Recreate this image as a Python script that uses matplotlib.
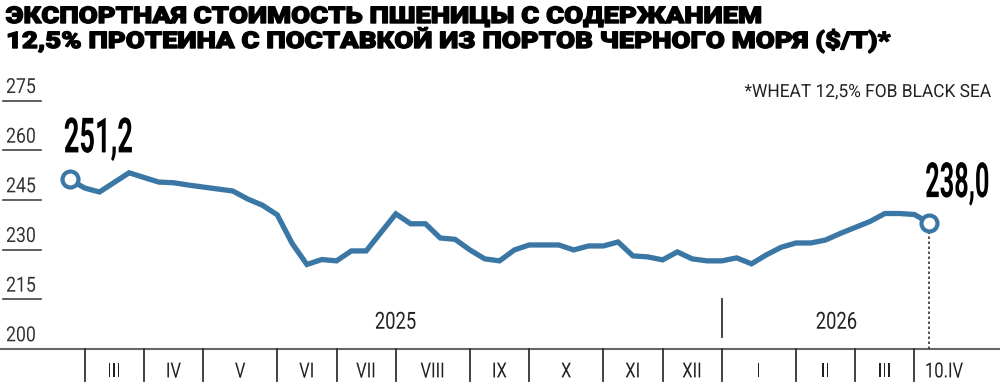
import matplotlib
matplotlib.use("Agg")
import matplotlib.pyplot as plt
from matplotlib.patheffects import AbstractPathEffect
from matplotlib.transforms import Affine2D
import pandas as pd

# weekly price, $/t (Fridays 28.II.2025 - 10.IV.2026)
dates = pd.date_range("2025-02-28", "2026-04-10", freq="7D")
prices = [251.2, 248.6, 247.4, 250.3, 253.2, 251.8, 250.4, 250.2, 249.5, 248.9,
          248.3, 247.7, 245.3, 243.4, 240.5, 231.9, 225.5, 227.0, 226.6, 229.6,
          229.6, 235.2, 240.8, 237.8, 237.8, 233.5, 233.1, 229.9, 227.2, 226.6,
          229.9, 231.4, 231.4, 231.4, 229.9, 231.1, 231.1, 232.3, 228.1, 227.8,
          226.9, 229.3, 227.2, 226.6, 226.6, 227.5, 225.7, 228.4, 230.7, 232.0,
          232.0, 232.9, 234.9, 236.7, 238.5, 240.9, 240.9, 240.6, 238.0]
yticks = [200, 215, 230, 245, 260, 275]
roman = ["I", "II", "III", "IV", "V", "VI", "VII", "VIII", "IX", "X", "XI", "XII"]

title1 = "ЭКСПОРТНАЯ СТОИМОСТЬ ПШЕНИЦЫ С СОДЕРЖАНИЕМ"
title2 = "12,5% ПРОТЕИНА С ПОСТАВКОЙ ИЗ ПОРТОВ ЧЕРНОГО МОРЯ ($/Т)*"
note = "*WHEAT 12,5% FOB BLACK SEA"

plt.rcParams["font.family"] = ["Roboto", "DejaVu Sans"]

BLUE = "#3a77a5"
INK = "#222222"


class Condense(AbstractPathEffect):
    # squeeze/stretch glyphs horizontally, optional outline to fake a heavier weight
    def __init__(self, sx, align="left", stroke=0):
        super().__init__()
        self.sx = sx
        self.k = {"left": 0.0, "center": 0.5, "right": 1.0}[align]
        self.stroke = stroke

    def draw_path(self, renderer, gc, tpath, affine, rgbFace=None):
        w = tpath.vertices[:, 0].max() if len(tpath.vertices) else 0
        t = Affine2D().scale(self.sx, 1).translate(self.k * (1 - self.sx) * w, 0)
        renderer.draw_path(gc, tpath, t + affine, rgbFace)
        if self.stroke:
            gc0 = renderer.new_gc()
            gc0.copy_properties(gc)
            gc0.set_linewidth(self.stroke)
            gc0.set_foreground(rgbFace)
            gc0.set_joinstyle("round")
            renderer.draw_path(gc0, tpath, t + affine, None)
            gc0.restore()


def cond(sx, align="left", stroke=0):
    return [Condense(sx, align, stroke)]


fig = plt.figure(figsize=(10, 3.85), dpi=100)
ax = fig.add_axes([0, 0, 1, 1])
ax.axis("off")
ax.set_xlim(-4.71, 62.77)
ax.set_ylim(189.1, 305.4)

x = list(range(len(prices)))

# y labels with short underlines
ytr = ax.get_yaxis_transform()
for v in yticks:
    ax.text(0.006, v + 2.3, str(v), transform=ytr, ha="left", va="baseline",
            fontsize=15, color="#333333", path_effects=cond(0.85))
    if v != 200:
        ax.plot([0.003, 0.041], [v, v], transform=ytr, color="#444444", lw=1.2)

# baseline
ax.axhline(200, color="#666666", lw=1.5)

# month separators and labels
month_start = [i for i in range(1, len(dates)) if dates[i].month != dates[i - 1].month]
xtr = ax.get_xaxis_transform()
for i in month_start:
    ax.plot([i, i], [0.01, 0.093], transform=xtr, color="#333333", lw=1.3)
bounds = month_start + [month_start[-1] + 4]
for a, b in zip(bounds[:-1], bounds[1:]):
    if a == month_start[-1]:
        lab = f"{dates[-1].day}.{roman[dates[-1].month - 1]}"
    else:
        lab = roman[dates[a].month - 1]
    ax.text((a + b) / 2, 0.034, lab, transform=xtr, ha="center", va="center",
            fontsize=15, color=INK, path_effects=cond(0.8, "center"))

# years
y26 = next(i for i in range(len(dates)) if dates[i].year == 2026)
ax.plot([y26, y26], [0.125, 0.223], transform=xtr, color="#333333", lw=1.3)
ax.text(y26 / 2, 0.163, "2025", transform=xtr, ha="center", va="center",
        fontsize=17, color=INK, path_effects=cond(0.78, "center"))
ax.text((y26 + len(dates) + 0.5) / 2, 0.163, "2026", transform=xtr,
        ha="center", va="center", fontsize=17, color=INK,
        path_effects=cond(0.78, "center"))

# dotted drop line for last value
ax.plot([x[-1], x[-1]], [200, prices[-1]], color="#333333", lw=1.2,
        ls=(0, (1.5, 1.5)), zorder=2)

ax.plot(x, prices, color=BLUE, lw=3.8, solid_joinstyle="miter", zorder=3)
ax.plot([x[0], x[-1]], [prices[0], prices[-1]], ls="none", marker="o",
        ms=11.5, mfc="white", mec=BLUE, mew=3, zorder=4)

fmt = lambda v: f"{v:.1f}".replace(".", ",")
ax.annotate(fmt(prices[0]), (x[0], prices[0]), xytext=(-6, 27),
            textcoords="offset pixels", ha="left", va="baseline",
            fontsize=35, fontweight="bold", color="black",
            path_effects=cond(0.56))
ax.annotate(fmt(prices[-1]), (x[-1], prices[-1]), xytext=(61, 26),
            textcoords="offset pixels", ha="right", va="baseline",
            fontsize=35, fontweight="bold", color="black",
            path_effects=cond(0.52, "right"))

fig.text(0.006, 1 - 23 / 385, title1, ha="left", va="baseline", fontsize=16.5,
         fontweight="black", color="black", path_effects=cond(1.2, stroke=1.0))
fig.text(0.006, 1 - 48 / 385, title2, ha="left", va="baseline", fontsize=16.5,
         fontweight="black", color="black", path_effects=cond(1.2, stroke=1.0))
fig.text(0.99, 1 - 92 / 385, note, ha="right", va="center", fontsize=13,
         color=INK, path_effects=cond(0.96, "right"))

fig.savefig("out.png", dpi=100)
